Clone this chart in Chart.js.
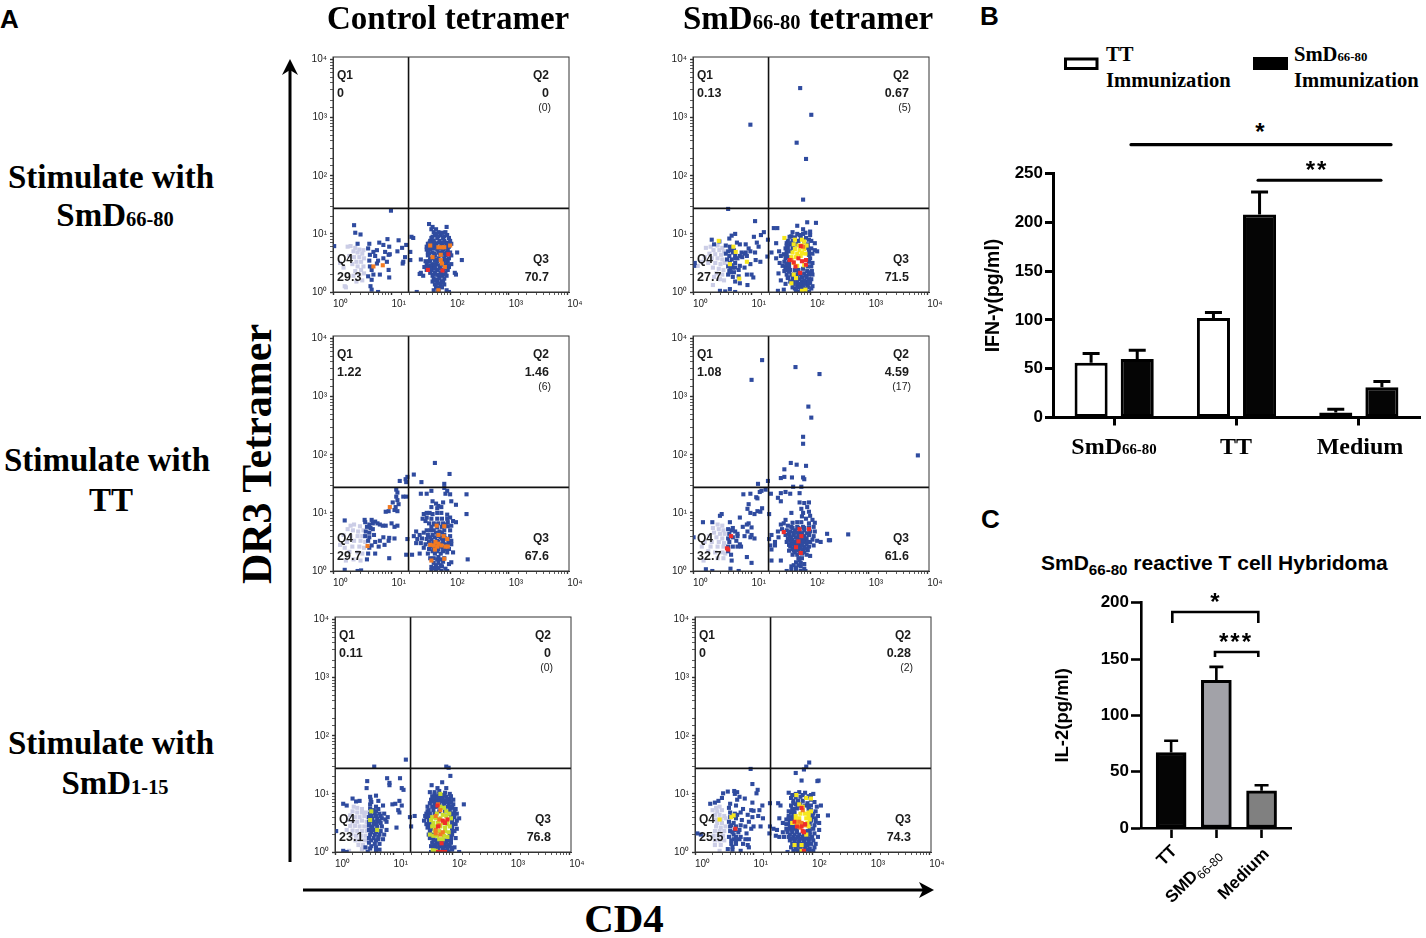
<!DOCTYPE html>
<html>
<head>
<meta charset="utf-8">
<script src="https://cdn.jsdelivr.net/npm/chart.js@4"></script>
<style>
  html, body { margin: 0; padding: 0; background: #fff; }
  #page { position: relative; width: 1426px; height: 938px; overflow: hidden; }
  canvas { position: absolute; }
  svg { position: absolute; left: 0; top: 0; }
  .t { position: absolute; white-space: nowrap; line-height: 1; color: #000; }
  .serif { font-family: "Liberation Serif", serif; font-weight: bold; }
  .sans { font-family: "Liberation Sans", sans-serif; font-weight: bold; }
  .q { font-family: "Liberation Sans", sans-serif; font-weight: bold; color: #1c1c1c; }
  .serif small { font-size: 0.62em; }
</style>
</head>
<body>
<div id="page">
  <svg width="1426" height="938">
    <!-- panel A axis arrows -->
    <line x1="290" y1="862" x2="290" y2="68" stroke="#000" stroke-width="3"/>
    <path d="M282 75 L290 59 L298 75 L290 70 Z" fill="#000"/>
    <line x1="303" y1="890" x2="925" y2="890" stroke="#000" stroke-width="3"/>
    <path d="M919 882 L934 890 L919 898 L923 890 Z" fill="#000"/>
    <!-- panel B significance -->
    <line x1="1131" y1="144.7" x2="1391" y2="144.7" stroke="#000" stroke-width="3.2" stroke-linecap="round"/>
    <line x1="1258" y1="180.3" x2="1381" y2="180.3" stroke="#000" stroke-width="3" stroke-linecap="round"/>
    <!-- panel B legend swatches -->
    <rect x="1065.5" y="59" width="31.5" height="9.5" fill="#fff" stroke="#000" stroke-width="3"/>
    <rect x="1253" y="57" width="35" height="13" fill="#000"/>
    <!-- panel C brackets -->
    <path d="M1172.3 623 V612 H1258.3 V623" fill="none" stroke="#000" stroke-width="2.6"/>
    <path d="M1215 657 V652 H1258.3 V657" fill="none" stroke="#000" stroke-width="2.6"/>
  </svg>
</div>
<script>
// FACS panels, values are log10 decades [CD4, DR3 tetramer]
const p1Grey = [[.3,.79],[.25,.78],[.38,.76],[.45,.73],[.52,.72],[.35,.7],[.42,.68],[.5,.66],[.28,.62],[.36,.6],[.45,.6],[.53,.58],[.4,.52],[.48,.52],[.33,.48],[.42,.44],[.52,.44],[.48,.38],[.38,.36],[.45,.3],[.53,.32],[.35,.28],[.2,.1],[.22,.08],[.4,.18],[.5,.2],[.12,.5],[.18,.42]];
const p1Blue = [[.36,1.15],[.38,1.02],[.47,.99],[.42,.83],[.02,.79],[.62,.83],[.79,.85],[.93,.91],[.86,.81],[.96,.78],[1.12,.89],[1.25,.81],[1.18,.76],[1.1,.7],[.6,.75],[.75,.72],[.69,.69],[.63,.64],[.72,.62],[.89,.69],[.95,.64],[.97,.65],[.62,.54],[.77,.54],[.86,.58],[.92,.52],[.63,.44],[.75,.49],[.66,.38],[.8,.3],[.95,.38],[.96,.25],[.69,.3],[.6,.27],[.66,.21],[.64,.1],[.66,.04],[.77,0],[1.2,.52],[1.19,.49],[1.23,.6],[1.32,.55],[1.32,.69],[1.34,.95],[1.37,.93],[.99,1.4],[1.43,0],[1.48,.31],[1.5,.56],
  [1.64,1.17],[1.7,1.12],[1.94,1.12],[1.76,1.08],[1.68,1.08],[1.72,1.03],[1.8,1.03],[1.92,1.03],[1.74,.98],[1.84,.98],[1.95,.98],[1.68,.93],[1.78,.93],[1.88,.93],[1.98,.93],[1.66,.88],[1.72,.88],[1.82,.88],[1.9,.88],[2,.88],[1.62,.83],[1.7,.83],[1.76,.83],[1.86,.83],[1.94,.83],[2.02,.83],[1.6,.78],[1.68,.78],[1.74,.78],[1.84,.78],[1.92,.78],[1.98,.78],[1.6,.73],[1.66,.73],[1.78,.73],[1.88,.73],[1.96,.73],[1.62,.68],[1.7,.68],[1.8,.68],[1.86,.68],[1.94,.68],[2,.68],[2.12,.68],[1.62,.63],[1.74,.63],[1.84,.63],[1.92,.63],[2.02,.63],[1.66,.58],[1.72,.58],[1.8,.58],[1.9,.58],[1.98,.58],[1.58,.53],[1.64,.53],[1.78,.53],[1.88,.53],[1.96,.53],[2.2,.55],[1.6,.48],[1.7,.48],[1.76,.48],[1.86,.48],[1.94,.48],[2.02,.48],[1.56,.43],[1.62,.43],[1.72,.43],[1.82,.43],[1.92,.43],[1.98,.43],[1.6,.38],[1.68,.38],[1.78,.38],[1.88,.38],[1.96,.38],[1.5,.33],[1.66,.33],[1.74,.33],[1.84,.33],[1.92,.33],[2.08,.33],[1.54,.28],[1.7,.28],[1.8,.28],[1.86,.28],[1.94,.28],[2.1,.3],[1.72,.23],[1.82,.23],[1.9,.23],[1.7,.18],[1.78,.18],[1.86,.18],[1.74,.13],[1.84,.13],[1.9,.13],[1.76,.08],[1.86,.08],[1.72,.03],[1.8,.03],[1.94,.03],[1.8,0],[1.98,0]];
const p1BlueCore = [[1.65,.85],[1.73,.85],[1.8,.85],[1.88,.85],[1.96,.85],[1.64,.76],[1.72,.75],[1.81,.75],[1.9,.75],[1.64,.66],[1.73,.66],[1.82,.66],[1.9,.66],[1.97,.66],[1.66,.55],[1.74,.55],[1.83,.55],[1.92,.55],[1.66,.46],[1.74,.46],[1.82,.46],[1.9,.46],[1.97,.46],[1.66,.4],[1.74,.4],[1.83,.4],[1.91,.4],[1.72,.3],[1.78,.3],[1.84,.3],[1.9,.3],[1.76,.21],[1.8,.15],[1.74,.2],[1.88,.18],[1.8,.08],[1.7,.95],[1.8,.96],[1.9,.96],[1.76,1],[1.86,1.02]];
const p1Yellow = [];
const p1Orange = [[.69,.44],[.85,.46],[1.66,.8],[1.8,.77],[1.86,.77],[1.9,.77],[2,.8],[1.7,.6],[1.84,.64],[1.84,.55],[1.86,.49],[1.91,.43],[1.8,.03]];
const p1Red = [[1.97,.65],[1.62,.38],[1.87,.37]];

const p2Grey = [[.3,.78],[.22,.76],[.42,.8],[.5,.76],[.35,.72],[.45,.72],[.53,.7],[.28,.66],[.38,.65],[.48,.64],[.2,.6],[.32,.58],[.42,.58],[.5,.56],[.15,.52],[.26,.5],[.38,.5],[.47,.48],[.54,.5],[.34,.42],[.44,.4],[.52,.38],[.4,.32],[.5,.3],[.36,.26],[.46,.22],[.53,.2],[.34,.12],[.08,.45]];
const p2Blue = [[1.83,3.51],[2.02,3.05],[.98,2.88],[1.77,2.57],[1.93,2.29],[1.88,1.59],[.6,1.43],[1.06,1.22],[1.44,1.1],[1.21,1.03],[1.16,.98],[1.28,.9],[1.04,.95],[1.09,.85],[1.12,.78],[.32,.9],[.36,.82],[.45,.87],[.66,.97],[.72,1],[.62,.92],[.75,.85],[.8,.82],[.56,.8],[.63,.78],[.7,.72],[.95,.75],[.6,.7],[.68,.68],[.83,.68],[.9,.68],[.98,.7],[1.06,.68],[.62,.62],[.72,.62],[.8,.62],[.88,.66],[.58,.56],[.66,.56],[.76,.58],[.92,.62],[1.07,.55],[1.15,.52],[.63,.5],[.72,.5],[.98,.48],[.6,.44],[.68,.42],[.8,.45],[.88,.42],[.62,.36],[.7,.34],[.78,.38],[.6,.3],[.68,.26],[.78,.27],[.92,.3],[1,.3],[1.03,.25],[.72,.18],[.8,.15],[.93,.12],[.46,.02],[.55,.01],[.63,.05],[.72,0],[.03,.5],[.02,.45],[.9,.82],
  [1.27,.61],[1.34,.68],[1.38,1.1],[1.42,.84],[1.47,.7],[1.5,.62],[1.42,.58],[1.55,.65],[1.58,.75],[1.6,.84],[1.48,.5],[1.53,.45],[1.58,.38],[1.46,.32],[1.5,.2],[1.58,.14],[1.45,.02],[1.55,.04],[1.62,.25],
  [1.78,1.14],[1.95,1.2],[2.1,1.19],[1.88,1.08],[1.92,1.02],[2,1.04],[1.7,1.03],[1.78,1],[1.88,1],[2,.98],[1.65,.95],[1.74,.94],[1.84,.94],[1.93,.93],[1.98,.9],[1.62,.88],[1.7,.88],[1.8,.88],[1.9,.87],[2.02,.88],[1.66,.82],[1.76,.82],[1.96,.82],[2.08,.84],[1.62,.76],[1.7,.76],[1.96,.76],[2.02,.75],[1.66,.7],[1.98,.7],[2.08,.72],[2.12,.7],[1.6,.66],[1.98,.64],[2.04,.66],[1.58,.58],[2,.58],[1.56,.52],[1.63,.5],[1.98,.52],[2.04,.5],[1.58,.44],[1.64,.42],[1.96,.44],[2.02,.44],[1.56,.36],[1.64,.35],[1.8,.38],[1.88,.4],[1.95,.36],[2.03,.36],[1.6,.3],[1.72,.3],[1.8,.32],[1.9,.32],[1.98,.3],[2.04,.3],[1.62,.24],[1.78,.25],[1.86,.25],[1.94,.25],[2.02,.22],[1.66,.18],[1.78,.18],[1.86,.18],[1.94,.18],[2,.16],[1.78,.12],[1.86,.12],[1.96,.12],[2.04,.1],[1.74,.06],[1.84,.06],[1.92,.06],[2.02,.06],[1.8,0],[1.9,.02],[1.98,0]];
const p2BlueCore = [[1.68,.96],[1.82,.98],[1.6,.8],[1.68,.84],[1.6,.72],[1.58,.64],[1.62,.6],[1.64,.52],[1.6,.48],[1.64,.46],[1.6,.4],[1.66,.38],[1.74,.38],[1.68,.3],[1.76,.3],[1.84,.3],[1.92,.28],[1.99,.34],[1.7,.24],[1.72,.2],[1.82,.22],[1.9,.2],[1.98,.22],[1.72,.14],[1.82,.14],[1.9,.14],[1.98,.16],[1.7,.08],[1.8,.08],[1.88,.08],[1.96,.08],[1.76,.02],[1.86,.02],[.64,.72],[.72,.58],[.66,.46],[.64,.4],[.72,.42],[.64,.34],[.56,.66],[.84,.6]];
const p2Yellow = [[.44,.88],[.69,.78],[.73,.69],[.92,.52],[.63,.48],[.79,.23],[1.56,.93],[1.74,.9],[1.86,.9],[1.9,.87],[1.72,.82],[1.8,.8],[1.86,.8],[1.94,.8],[1.74,.74],[1.82,.72],[1.9,.74],[1.7,.68],[1.78,.66],[1.86,.67],[1.92,.66],[1.68,.6],[1.76,.6],[1.84,.62],[1.72,.5],[1.78,.45],[1.9,.46],[1.72,.3],[1.76,.24],[1.68,.15],[1.86,.02],[1.92,.04]];
const p2Orange = [[1.88,.78],[1.68,.55]];
const p2Red = [[1.65,.55],[1.72,.51],[1.8,.58],[1.86,.53],[1.93,.55],[1.75,.44],[1.93,.47],[1.83,.33],[1.84,.79]];

const p3Grey = [[.3,.78],[.36,.8],[.46,.77],[.25,.72],[.34,.7],[.43,.68],[.52,.7],[.18,.62],[.3,.6],[.42,.6],[.5,.6],[.12,.45],[.24,.5],[.36,.52],[.47,.52],[.55,.5],[.2,.4],[.33,.42],[.45,.42],[.53,.4],[.28,.33],[.42,.32],[.5,.3],[.35,.2],[.47,.18],[.22,.18]];
const p3Blue = [[1.74,1.86],[1.99,1.67],[1.38,1.66],[1.27,1.62],[1.14,1.55],[1.25,1.53],[1.51,1.53],[1.9,1.5],[1.24,1.58],[1.08,1.4],[1.1,1.35],[1.08,1.28],[1.1,1.22],[1.02,1.18],[1.12,1.15],[1.07,1.1],[1.05,1.05],[.95,1.03],[.9,1.02],[1.1,1.03],[1.25,1.28],[1.2,1.28],[.2,.87],[.54,.88],[.55,.84],[.66,.88],[.72,.85],[.76,.82],[.8,.8],[.68,.82],[.62,.8],[.85,.78],[.9,.78],[1,.82],[1.05,.76],[1.1,.78],[.58,.76],[.64,.74],[.68,.72],[.56,.68],[.62,.66],[.7,.62],[.55,.6],[.62,.58],[.86,.58],[.96,.57],[1.05,.56],[.6,.52],[.72,.5],[.8,.52],[.66,.44],[.78,.42],[.88,.45],[.95,.52],[.62,.4],[.6,.3],[.72,.3],[.96,.22],[.58,.2],[.2,.02],[.42,0],[.48,.01],[1.25,.28],[1.27,.55],
  [1.5,1.33],[1.6,1.33],[1.68,1.38],[1.9,1.43],[1.95,1.38],[1.92,1.33],[2,1.32],[2.28,1.32],[2.02,1.2],[2.1,1.14],[1.7,1.2],[1.76,1.16],[1.8,1.12],[1.68,1.1],[1.78,1.08],[1.85,1.1],[1.88,1.18],[2.28,.98],[1.55,.98],[1.6,1],[1.65,1],[1.6,.92],[1.7,.98],[1.78,1],[1.85,1],[1.95,.97],[2,.92],[1.53,.9],[1.58,.86],[1.68,.9],[1.78,.9],[1.86,.9],[1.95,.9],[2.05,.86],[1.64,.82],[1.72,.82],[1.8,.82],[1.88,.82],[1.96,.84],[2.1,.84],[1.68,.76],[1.78,.75],[1.86,.76],[1.96,.77],[2.02,.78],[1.6,.7],[1.72,.7],[1.82,.68],[1.9,.7],[2,.7],[1.42,.68],[1.48,.62],[1.55,.66],[1.62,.62],[1.7,.62],[1.8,.6],[1.9,.62],[2,.6],[1.38,.6],[1.44,.55],[1.52,.56],[1.6,.55],[1.68,.54],[1.78,.52],[1.86,.56],[1.96,.54],[2.02,.52],[1.42,.48],[1.5,.48],[1.58,.46],[1.66,.46],[1.74,.46],[1.82,.46],[1.92,.46],[2.02,.46],[1.55,.4],[1.64,.38],[1.72,.38],[1.8,.38],[1.88,.4],[1.98,.38],[1.48,.3],[1.62,.3],[1.74,.3],[1.84,.3],[1.95,.32],[2.05,.32],[1.35,.28],[1.66,.22],[1.72,.22],[1.8,.24],[1.9,.22],[2.02,.15],[2.3,.2],[1.72,.14],[1.8,.14],[1.88,.16],[1.98,.12],[1.68,.07],[1.76,.08],[1.86,.08],[1.92,.04],[1.68,.01],[1.76,.02],[1.85,0],[1.95,0]];
const p3BlueCore = [[1.74,.8],[1.92,.8],[1.66,.7],[1.76,.66],[1.86,.66],[1.66,.58],[1.74,.58],[1.84,.58],[1.92,.56],[1.64,.5],[1.72,.5],[1.8,.5],[1.88,.5],[1.98,.48],[1.68,.42],[1.76,.42],[1.84,.42],[1.92,.38],[1.7,.34],[1.78,.34],[1.88,.34],[1.78,.2],[1.84,.2],[1.76,.1],[1.84,.1],[1.72,.05],[1.8,.05]];
const p3Yellow = [];
const p3Orange = [[.59,.43],[.97,1.1],[1.77,.78],[1.9,.77],[1.8,.62],[1.89,.6],[1.75,.5],[1.8,.47],[1.66,.45],[1.72,.44],[1.78,.42],[1.85,.44],[1.92,.42],[1.96,.42],[1.74,.37],[1.68,.18],[1.9,.21],[1.95,.55]];
const p3Red = [];

const p4Grey = [[.42,.8],[.5,.78],[.34,.74],[.44,.72],[.52,.7],[.36,.66],[.46,.64],[.54,.64],[.28,.6],[.4,.58],[.5,.56],[.2,.5],[.32,.5],[.44,.5],[.53,.48],[.3,.42],[.42,.42],[.52,.42],[.26,.34],[.38,.32],[.5,.32],[.55,.3],[.18,.18],[.42,.22],[.52,.22],[.15,.42]];
const p4Blue = [[1.18,3.63],[1,3.29],[1.75,3.51],[2.16,3.39],[1.97,2.83],[2.02,2.64],[1.88,2.31],[1.88,2.19],[3.84,1.99],[1.67,1.86],[1.77,1.83],[1.93,1.81],[1.56,1.75],[1.5,1.6],[1.56,1.62],[1.69,1.61],[1.88,1.61],[1.9,1.58],[1.28,1.55],[1.11,1.5],[1.71,1.45],[1.85,1.45],[2.65,.63],[2.29,.64],[2.32,.53],[2.34,.53],[.49,.98],[.46,.95],[.17,.84],[.33,.84],[.63,.84],[.8,.92],[.95,.82],[.92,.8],[1,.75],[.68,.74],[.85,.76],[.98,1],[1.05,.98],[1.1,1.03],[1.18,1.08],[1.3,.98],[.93,1.07],[.95,1.15],[.86,1.32],[.98,1.33],[1.08,1.27],[1.1,1.25],[1.14,1.36],[1.17,1.38],[1.24,1.4],[1.33,1.33],[1.45,1.26],[1.15,1.02],[.6,.72],[.66,.7],[.72,.68],[.62,.64],[.76,.64],[.93,.68],[1,.62],[.6,.56],[.68,.58],[.76,.6],[.88,.6],[.98,.58],[1.05,.56],[.62,.5],[.74,.52],[.8,.46],[.6,.42],[.68,.42],[.76,.42],[.82,.42],[.6,.34],[.65,.28],[.92,.24],[1,.14],[.66,.18],[.22,.03],[.33,0],[.64,.04],[.78,0],[.01,.58],[1.3,.55],[1.32,.44],[1.34,.37],[1.4,.44],[1.34,.18],[1.5,.18],
  [1.5,1.34],[1.58,1.36],[1.66,1.33],[1.82,1.34],[1.5,1.2],[1.82,1.18],[1.9,1.17],[1.98,1.18],[1.85,1.07],[1.68,1],[1.95,1.1],[1.98,1.02],[1.88,1],[2,.95],[1.86,.94],[1.93,.9],[2.04,.88],[1.58,.88],[1.7,.83],[1.78,.84],[1.85,.84],[1.98,.82],[2.08,.83],[1.5,.8],[1.55,.82],[1.62,.78],[1.68,.76],[1.78,.76],[1.88,.76],[1.98,.75],[2.06,.76],[1.45,.68],[1.52,.72],[1.6,.7],[1.66,.68],[1.74,.7],[1.82,.68],[1.9,.7],[2,.68],[2.08,.68],[1.58,.62],[1.65,.6],[1.72,.62],[1.8,.62],[1.9,.6],[1.98,.62],[2.06,.6],[1.34,.62],[1.46,.58],[1.62,.56],[1.7,.54],[1.78,.55],[1.86,.54],[1.94,.56],[2.04,.54],[2.12,.52],[2.18,.5],[1.4,.5],[1.6,.5],[1.68,.48],[1.76,.48],[1.84,.48],[1.92,.5],[2,.5],[1.66,.42],[1.74,.42],[1.82,.42],[1.9,.42],[1.98,.42],[2.06,.44],[1.64,.35],[1.72,.35],[1.8,.36],[1.88,.36],[1.96,.36],[1.7,.28],[1.78,.28],[1.86,.3],[1.94,.28],[2,.26],[1.8,.22],[1.86,.22],[1.76,.15],[1.84,.14],[1.9,.12],[1.68,.08],[1.76,.06],[1.84,.08],[1.9,.04],[1.6,0],[1.68,.02],[1.76,0],[1.84,0],[1.92,0]];
const p4BlueCore = [[1.7,.74],[1.8,.74],[1.9,.74],[1.64,.64],[1.72,.66],[1.78,.66],[1.86,.65],[1.94,.65],[1.68,.58],[1.76,.58],[1.84,.58],[1.9,.56],[1.66,.52],[1.74,.5],[1.82,.52],[1.88,.5],[1.96,.5],[1.64,.45],[1.7,.45],[1.78,.45],[1.86,.45],[1.94,.46],[1.7,.38],[1.76,.38],[1.84,.39],[1.92,.39],[1.74,.32],[1.82,.32],[1.9,.32],[1.82,.18],[1.72,.1],[1.8,.1]];
const p4Yellow = [];
const p4Orange = [];
const p4Red = [[.65,.6],[.6,.37],[1.55,.67],[1.82,.72],[1.98,.72],[1.85,.6],[1.8,.51],[1.76,.41],[1.84,.31],[.58,.39]];

const p5Grey = [[.32,.78],[.38,.76],[.46,.74],[.3,.7],[.38,.68],[.46,.68],[.53,.68],[.26,.63],[.34,.6],[.42,.6],[.5,.62],[.56,.6],[.22,.55],[.3,.52],[.38,.52],[.46,.54],[.54,.52],[.26,.45],[.34,.45],[.42,.44],[.5,.44],[.56,.44],[.2,.38],[.3,.37],[.38,.36],[.46,.36],[.54,.36],[.28,.3],[.36,.28],[.44,.28],[.52,.28],[.35,.2],[.42,.2],[.5,.2],[.56,.2],[.4,.12],[.48,.12],[.46,.05],[.54,.06],[.24,.02]];
const p5Blue = [[1.21,1.59],[.67,1.47],[1.9,1.47],[1.94,1.45],[1.97,1.31],[.89,1.27],[.93,1.19],[1.11,1.27],[.55,1.22],[1.14,1.1],[.93,1.15],[1.17,1.07],[.54,1.1],[.6,.95],[.61,.9],[.7,.97],[.62,.86],[.74,.88],[.3,.92],[.36,.87],[.42,.88],[.14,.83],[.2,.8],[.6,.82],[.7,.78],[.82,.8],[1.1,.88],[1.03,.83],[.98,.82],[1.14,.8],[1.08,.72],[1.1,.68],[.6,.75],[.66,.72],[.74,.74],[.6,.66],[.68,.66],[.76,.66],[.84,.66],[.9,.6],[.58,.6],[.64,.58],[.72,.58],[.8,.58],[.86,.56],[.58,.52],[.66,.52],[.72,.52],[.78,.5],[.88,.52],[.58,.46],[.64,.44],[.72,.44],[.8,.44],[1.05,.42],[.58,.38],[.66,.38],[.78,.36],[.88,.38],[.6,.3],[.68,.3],[.76,.3],[.84,.3],[.58,.24],[.66,.24],[.74,.22],[.82,.22],[.58,.16],[.68,.14],[.76,.14],[.52,.08],[.6,.06],[.7,.02],[.76,.04],[.14,.02],[.2,0],[.56,0],[.02,.36],[1.28,.6],[1.36,.62],[1.3,.44],
  [1.65,1.15],[1.75,1.1],[1.83,1.2],[1.9,1.1],[1.62,1.03],[1.7,1.03],[1.78,1.05],[1.88,1.02],[1.96,1],[1.66,.96],[1.74,.96],[1.82,.96],[1.9,.95],[1.98,.96],[1.64,.9],[1.72,.9],[1.8,.9],[1.88,.88],[1.96,.9],[2.02,.9],[1.62,.84],[1.7,.84],[1.78,.84],[1.86,.84],[1.94,.84],[2.02,.82],[2.2,.82],[1.66,.78],[1.74,.78],[1.84,.78],[1.92,.78],[2,.76],[2.06,.74],[1.6,.72],[1.68,.72],[1.78,.7],[1.88,.7],[1.96,.72],[2.04,.7],[1.56,.66],[1.62,.66],[1.7,.66],[1.96,.66],[2.02,.66],[2.08,.66],[1.56,.6],[1.62,.6],[1.98,.6],[2.04,.6],[2.12,.58],[1.52,.54],[1.6,.54],[2,.54],[2.08,.54],[1.56,.48],[1.62,.48],[2,.48],[2.06,.48],[1.58,.42],[2,.42],[2.08,.4],[1.62,.36],[2,.36],[1.66,.3],[2,.3],[1.62,.24],[1.68,.22],[1.98,.24],[2.06,.24],[1.66,.16],[1.74,.16],[1.82,.16],[1.9,.16],[1.98,.16],[1.64,.1],[1.72,.1],[1.8,.1],[1.88,.1],[1.96,.1],[2.04,.08],[1.68,.04],[1.76,.04],[1.84,.04],[1.92,.04],[2,.04],[1.64,0],[1.94,0],[2.12,0]];
const p5BlueCore = [[1.7,.99],[1.78,.99],[1.86,.98],[1.68,.93],[1.76,.93],[1.84,.92],[1.92,.92],[1.66,.87],[1.74,.87],[1.82,.87],[1.9,.86],[1.98,.85],[1.58,.78],[1.7,.78],[1.58,.7],[1.98,.78],[1.54,.62],[1.6,.44],[1.64,.4],[1.6,.3],[1.64,.26],[1.96,.3],[2.04,.36],[1.98,.2],[1.7,.2],[1.76,.2],[1.88,.2],[1.94,.2],[1.7,.13],[1.78,.13],[1.86,.13],[1.94,.13],[1.68,.07],[1.76,.07],[1.84,.07],[1.92,.07],[2,.07],[1.7,0],[1.9,.02],[.62,.7],[.7,.7],[.62,.62],[.7,.62],[.78,.62],[.62,.54],[.7,.48],[.62,.4],[.7,.34],[.62,.34],[.74,.26],[.62,.2],[.7,.2],[.62,.1],[.7,.08],[.66,.48],[.76,.54]];
const p5Yellow = [[.62,.7],[.6,.55],[.72,.38],[1.8,.78],[1.86,.76],[1.9,.7],[1.95,.66],[1.66,.6],[1.74,.66],[1.84,.64],[1.9,.62],[1.98,.58],[1.64,.55],[1.72,.58],[1.8,.58],[1.92,.54],[1.68,.5],[1.76,.5],[1.84,.5],[1.92,.48],[1.66,.44],[1.72,.44],[1.8,.44],[1.88,.42],[1.96,.44],[1.7,.36],[1.78,.36],[1.88,.36],[1.94,.34],[1.68,.28],[1.74,.28],[1.86,.28],[1.92,.26],[1.78,.22],[1.84,.22],[1.62,.3],[1.67,.03],[1.72,.02],[1.8,1]];
const p5Orange = [[1.76,.82],[1.8,.72],[1.72,.62],[1.78,.56],[1.86,.52],[1.78,.46],[1.72,.38],[1.84,.34],[1.72,.32],[1.8,.3]];
const p5Red = [[1.75,.8],[1.84,.54],[1.88,.5],[1.92,.56],[1.76,.44],[1.82,.15],[1.76,0],[1.82,0],[1.88,0]];

const p6Grey = [[.36,.76],[.42,.78],[.3,.72],[.38,.7],[.46,.72],[.34,.64],[.42,.64],[.5,.62],[.36,.56],[.44,.56],[.52,.58],[.38,.5],[.46,.5],[.36,.44],[.44,.42],[.52,.44],[.34,.36],[.42,.36],[.5,.36],[.32,.28],[.4,.28],[.48,.28],[.34,.2],[.42,.2],[.5,.2],[.34,.12],[.44,.12],[.42,.02]];
const p6Blue = [[1.95,1.54],[1.9,1.47],[1.86,1.42],[1.72,1.36],[1.82,1.23],[2.11,1.23],[2.09,1.22],[.95,1.43],[.98,1.17],[1.07,1.07],[1.05,1.01],[.48,1.01],[.56,1.04],[.67,1.05],[.68,1],[.72,1.03],[.76,.95],[.46,.93],[.4,.88],[.34,.85],[.26,.83],[.6,.83],[.72,.9],[.85,.92],[.98,.85],[1.15,.8],[1.1,.72],[.96,.72],[1,.71],[.58,.76],[.7,.8],[.82,.74],[.6,.68],[.68,.66],[.78,.68],[.9,.64],[.98,.6],[1.08,.62],[1.16,.58],[.6,.6],[.7,.58],[.8,.55],[.92,.52],[.58,.52],[.66,.5],[.78,.46],[.86,.44],[1,.44],[1.12,.44],[.6,.44],[.68,.38],[.76,.38],[.96,.4],[.6,.36],[.66,.3],[.74,.34],[.78,.26],[.88,.32],[.58,.26],[.66,.22],[.76,.22],[.86,.22],[.92,.22],[.62,.14],[.7,.14],[.82,.14],[.9,.12],[.92,.08],[.56,.05],[.64,.04],[.78,.02],[.04,.32],[.1,.3],[1.28,.84],[1.42,.84],[1.46,.8],[1.28,.44],[1.34,.4],[1.4,.38],[1.44,.58],[1.27,.32],[1.38,.28],[1.44,.26],
  [1.6,1.02],[1.72,1],[1.78,1.03],[1.88,1.02],[1.98,.98],[2.02,1],[1.64,.93],[1.72,.94],[1.8,.95],[1.9,.93],[1.98,.9],[1.68,.88],[1.76,.88],[1.84,.88],[1.92,.84],[2.04,.86],[2.15,.8],[1.64,.8],[1.72,.82],[1.8,.82],[1.98,.8],[2.08,.78],[1.66,.74],[1.74,.75],[1.82,.76],[1.98,.72],[2.06,.7],[2.27,.63],[1.64,.68],[1.7,.68],[1.96,.66],[2.02,.66],[2.1,.62],[1.6,.62],[1.68,.62],[2,.6],[2.06,.58],[1.56,.56],[1.62,.54],[1.68,.56],[1.98,.54],[2.06,.52],[2.12,.5],[1.5,.5],[1.56,.48],[1.62,.48],[1.96,.48],[2.04,.46],[1.56,.4],[1.62,.4],[1.7,.4],[1.96,.4],[2.02,.4],[2.12,.38],[1.5,.34],[1.58,.34],[1.66,.34],[1.74,.34],[1.88,.34],[1.96,.34],[2.04,.32],[1.52,.26],[1.6,.26],[1.68,.26],[1.76,.26],[1.84,.26],[1.92,.26],[2,.26],[2.1,.26],[1.62,.2],[1.7,.2],[1.78,.2],[1.86,.2],[1.94,.2],[2.02,.2],[1.66,.14],[1.74,.14],[1.82,.14],[1.9,.14],[1.98,.14],[2.06,.14],[1.64,.08],[1.72,.08],[1.8,.08],[1.88,.08],[1.96,.06],[2.04,.08],[1.58,0],[1.68,.02],[1.76,.02],[1.86,0],[1.96,0],[2.02,.02]];
const p6BlueCore = [[1.66,.98],[1.84,.98],[1.94,.96],[1.68,.84],[1.76,.8],[1.88,.8],[1.94,.78],[1.68,.74],[1.6,.7],[1.68,.7],[1.94,.74],[1.6,.58],[1.66,.6],[1.62,.44],[1.68,.44],[1.58,.38],[1.66,.38],[1.74,.38],[1.92,.36],[1.62,.3],[1.7,.3],[1.78,.3],[1.86,.3],[1.96,.3],[1.64,.23],[1.72,.23],[1.8,.23],[1.88,.23],[1.96,.23],[1.7,.17],[1.78,.17],[1.86,.17],[1.94,.17],[1.68,.11],[1.76,.11],[1.84,.11],[1.92,.11],[1.72,.04],[1.8,.04],[1.9,.04],[.64,.62],[.72,.64],[.62,.46],[.7,.44],[.64,.34],[.7,.26],[.62,.2],[.7,.2],[.64,.09]];
const p6Yellow = [[.62,.6],[.66,.63],[.42,.56],[1.73,.98],[1.9,.93],[1.98,.92],[1.78,.82],[1.84,.78],[1.98,.7],[1.94,.68],[1.72,.62],[1.8,.66],[1.88,.66],[1.94,.62],[1.72,.55],[1.78,.58],[1.9,.58],[1.96,.56],[1.74,.5],[1.92,.5],[1.66,.5],[1.78,.44],[1.94,.44],[1.9,.3],[1.82,.12],[1.7,.12],[1.82,.02]];
const p6Orange = [[1.84,.72],[1.78,.52],[1.82,.5],[1.88,.46],[1.8,.42]];
const p6Red = [[1.82,.76],[.69,.4],[1.7,.52],[1.74,.44],[1.82,.44],[1.88,.48],[1.84,.36],[1.86,.34],[1.86,.02]];

const gateX = 1.29;
const gateY = 1.44;
const logTicks = [0, 1, 2, 3, 4];

const panelNames = ["p1", "p2", "p3", "p4", "p5", "p6"];
const q1Values = ["0", "0.13", "1.22", "1.08", "0.11", "0"];
const q2Values = ["0", "0.67", "1.46", "4.59", "0", "0.28"];
const q2Counts = ["(0)", "(5)", "(6)", "(17)", "(0)", "(2)"];
const q3Values = ["70.7", "71.5", "67.6", "61.6", "76.8", "74.3"];
const q4Values = ["29.3", "27.7", "29.7", "32.7", "23.1", "25.5"];
const panelLeft = [333, 693, 333, 693, 335, 695];
const panelTop = [57, 57, 336, 336, 617, 617];

// Panel B
const bGroups = ["SmD66-80", "TT", "Medium"];
const bTT = [56, 102, 5];
const bTTTop = [65.5, 107.5, 8.5];
const bSmD = [60, 208, 31];
const bSmDTop = [69, 231, 37];

// Panel C
const cStim = ["TT", "SMD66-80", "Medium"];
const cValues = [67, 131, 33];
const cTops = [77.5, 143, 38];
const cFills = ["#050505", "#a2a2a8", "#808080"];

const YELLOWS = { p5: "#c8dc2c" };
const page = document.getElementById("page");

function addText(html, x, y, cls, size, anchor, extra) {
  const el = document.createElement("div");
  el.className = "t " + cls;
  el.innerHTML = html;
  el.style.left = x + "px";
  el.style.top = y + "px";
  el.style.fontSize = size + "px";
  const tx = anchor === "r" ? "-100%" : anchor === "c" ? "-50%" : "0";
  el.style.transform = `translate(${tx},-50%)` + (extra || "");
  page.appendChild(el);
  return el;
}

function toPoints(list) {
  return list.map(([a, b]) => ({ x: 10 ** a, y: 10 ** b }));
}

function pointSet(label, list, color) {
  return {
    label,
    data: toPoints(list),
    pointStyle: "rect",
    pointRadius: 2.9,
    pointHoverRadius: 2.9,
    pointBorderWidth: 0,
    backgroundColor: color,
    borderColor: color,
    showLine: false,
  };
}

function gateLine(data) {
  return {
    data,
    showLine: true,
    pointRadius: 0,
    borderColor: "#111",
    borderWidth: 1.6,
    clip: true,
  };
}

const panelBorder = {
  id: "panelBorder",
  afterDatasetsDraw(chart) {
    const { ctx, chartArea: a } = chart;
    ctx.save();
    ctx.strokeStyle = "#333";
    ctx.lineWidth = 1;
    ctx.strokeRect(a.left, a.top, a.right - a.left, a.bottom - a.top);
    ctx.restore();
  },
};

function isPower(v) {
  return logTicks.some((p) => Math.abs(Math.log10(v) - p) < 1e-6);
}

function logAxis(max, size, isX) {
  return {
    type: "logarithmic",
    min: 1,
    max,
    afterFit(s) {
      if (isX) s.height = size;
      else s.width = size;
      s.paddingLeft = s.paddingRight = s.paddingTop = s.paddingBottom = 0;
    },
    afterBuildTicks(s) {
      s.ticks = s.ticks.filter((t) => t.value <= 10000);
    },
    border: { color: "#333", width: 1 },
    grid: {
      drawOnChartArea: false,
      tickLength: 3,
      color: "#333",
      tickWidth: (c) => (c.tick && isPower(c.tick.value) ? 1.4 : 0.8),
    },
    ticks: {
      autoSkip: false,
      maxRotation: 0,
      minRotation: 0,
      padding: 3,
      align: isX ? "start" : "center",
      color: "#222",
      font: { family: "Liberation Sans", size: 10 },
      callback(v) {
        if (!isPower(v)) return "";
        const sup = "⁰¹²³⁴"[Math.round(Math.log10(v))];
        return "10" + sup;
      },
    },
  };
}

function drawPanel(i) {
  const name = panelNames[i];
  const sets = {
    p1: [p1Red, p1Orange, p1Yellow, p1Blue.concat(p1BlueCore), p1Grey],
    p2: [p2Red, p2Orange, p2Yellow, p2Blue.concat(p2BlueCore), p2Grey],
    p3: [p3Red, p3Orange, p3Yellow, p3Blue.concat(p3BlueCore), p3Grey],
    p4: [p4Red, p4Orange, p4Yellow, p4Blue.concat(p4BlueCore), p4Grey],
    p5: [p5Red, p5Orange, p5Yellow, p5Blue.concat(p5BlueCore), p5Grey],
    p6: [p6Red, p6Orange, p6Yellow, p6Blue.concat(p6BlueCore), p6Grey],
  }[name];
  const L = panelLeft[i];
  const T = panelTop[i];
  const canvas = document.createElement("canvas");
  canvas.width = 285;
  canvas.height = 260;
  canvas.style.left = L - 30 + "px";
  canvas.style.top = T - 7 + "px";
  page.appendChild(canvas);

  const xMax = 10 ** 4.03;
  const yMax = 10 ** 4.045;
  new Chart(canvas, {
    type: "scatter",
    data: {
      datasets: [
        gateLine([{ x: 10 ** gateX, y: 1 }, { x: 10 ** gateX, y: yMax }]),
        gateLine([{ x: 1, y: 10 ** gateY }, { x: xMax, y: 10 ** gateY }]),
        pointSet("red", sets[0], "#ee2d2b"),
        pointSet("orange", sets[1], "#f27a22"),
        pointSet("yellow", sets[2], YELLOWS[name] || "#f6e71e"),
        pointSet("blue", sets[3], "#2f4b9f"),
        pointSet("grey", sets[4], "#cbcde6"),
      ],
    },
    options: {
      responsive: false,
      animation: false,
      layout: { padding: { top: 7, right: 19 } },
      plugins: { legend: { display: false }, tooltip: { enabled: false } },
      scales: { x: logAxis(xMax, 18, true), y: logAxis(yMax, 30, false) },
    },
    plugins: [panelBorder],
  });

  const B = T + 235;
  addText("Q1", L + 4, T + 18, "q", 12);
  addText(q1Values[i], L + 4, T + 36, "q", 12.5);
  addText("Q2", L + 216, T + 18, "q", 12, "r");
  addText(q2Values[i], L + 216, T + 36, "q", 12.5, "r");
  addText(`<span style="font-weight:normal">${q2Counts[i]}</span>`, L + 218, T + 49.5, "q", 10.5, "r");
  addText("Q4", L + 4, B - 33, "q", 12);
  addText(q4Values[i], L + 4, B - 15, "q", 12.5);
  addText("Q3", L + 216, B - 33, "q", 12, "r");
  addText(q3Values[i], L + 216, B - 15, "q", 12.5, "r");
}

const errorBars = {
  id: "errorBars",
  afterDatasetsDraw(chart, args, opts) {
    const { ctx } = chart;
    const yScale = chart.scales.y;
    ctx.save();
    ctx.strokeStyle = "#000";
    ctx.lineWidth = opts.width;
    chart.data.datasets.forEach((ds, d) => {
      const meta = chart.getDatasetMeta(d);
      ds.tops.forEach((top, i) => {
        const bar = meta.data[i];
        const y = yScale.getPixelForValue(top);
        ctx.beginPath();
        ctx.moveTo(bar.x, bar.y);
        ctx.lineTo(bar.x, y);
        ctx.moveTo(bar.x - opts.cap, y);
        ctx.lineTo(bar.x + opts.cap, y);
        ctx.stroke();
      });
    });
    ctx.restore();
  },
};

function drawB() {
  const canvas = document.createElement("canvas");
  canvas.width = 444;
  canvas.height = 280;
  canvas.style.left = "982px";
  canvas.style.top = "160px";
  page.appendChild(canvas);
  new Chart(canvas, {
    type: "bar",
    data: {
      labels: bGroups,
      datasets: [
        { label: "TT Immunization", data: bTT, tops: bTTTop, backgroundColor: "#fff", borderColor: "#000", borderWidth: 3, borderSkipped: false },
        { label: "SmD66-80 Immunization", data: bSmD, tops: bSmDTop, backgroundColor: "#050505", borderColor: "#000", borderWidth: 3, borderSkipped: false },
      ],
    },
    options: {
      responsive: false,
      animation: false,
      categoryPercentage: 0.754,
      barPercentage: 0.717,
      layout: { padding: { top: 13.5, right: 6 } },
      plugins: {
        legend: { display: false },
        tooltip: { enabled: false },
        errorBars: { width: 3, cap: 8.5 },
      },
      scales: {
        x: {
          afterFit(s) { s.height = 22.5; },
          border: { color: "#000", width: 3 },
          grid: { offset: false, drawOnChartArea: false, tickLength: 8, tickWidth: 3, color: "#000" },
          ticks: { display: false },
        },
        y: {
          min: 0,
          max: 250,
          afterFit(s) { s.width = 71; },
          border: { color: "#000", width: 3 },
          grid: { drawOnChartArea: false, tickLength: 8, tickWidth: 3, color: "#000" },
          ticks: { stepSize: 50, padding: 2, color: "#000", font: { family: "Liberation Sans", weight: "bold", size: 17 } },
          title: { display: true, text: "IFN-γ(pg/ml)", color: "#000", padding: 0, font: { family: "Liberation Sans", weight: "bold", size: 19.5 } },
        },
      },
    },
    plugins: [errorBars],
  });
}

function drawC() {
  const canvas = document.createElement("canvas");
  canvas.width = 248;
  canvas.height = 255;
  canvas.style.left = "1052px";
  canvas.style.top = "590px";
  page.appendChild(canvas);
  new Chart(canvas, {
    type: "bar",
    data: {
      datasets: [
        {
          label: "IL-2",
          data: cValues.map((v, i) => ({ x: i + 1, y: v })),
          tops: cTops,
          backgroundColor: cFills,
          borderColor: "#000",
          borderWidth: 3,
          borderSkipped: false,
          barThickness: 30,
        },
      ],
    },
    options: {
      responsive: false,
      animation: false,
      layout: { padding: { top: 12.7, right: 8.3 } },
      plugins: {
        legend: { display: false },
        tooltip: { enabled: false },
        errorBars: { width: 2.6, cap: 7 },
      },
      scales: {
        x: {
          type: "linear",
          offset: false,
          min: 1 / 3,
          max: 11 / 3,
          afterFit(s) { s.height = 17; },
          border: { color: "#000", width: 2.6 },
          grid: { offset: false, drawOnChartArea: false, tickLength: 10, tickWidth: 2.6, color: "#000" },
          ticks: { display: false, stepSize: 1, includeBounds: false },
          afterBuildTicks(s) { s.ticks = cStim.map((c, i) => ({ value: i + 1 })); },
        },
        y: {
          min: 0,
          max: 200,
          afterFit(s) { s.width = 89; },
          border: { color: "#000", width: 2.6 },
          grid: { drawOnChartArea: false, tickLength: 10, tickWidth: 2.6, color: "#000" },
          ticks: { stepSize: 50, padding: 2, color: "#000", font: { family: "Liberation Sans", weight: "bold", size: 17 } },
          title: { display: true, text: "IL-2(pg/ml)", color: "#000", padding: 0, font: { family: "Liberation Sans", weight: "bold", size: 18.5 } },
        },
      },
    },
    plugins: [errorBars],
  });
}

panelNames.forEach((n, i) => drawPanel(i));
drawB();
drawC();

// Panel letters and column / row titles
addText("A", 0, 19, "sans", 26);
addText("B", 980, 16, "sans", 26);
addText("C", 981, 519, "sans", 26);
addText("Control tetramer", 327, 18, "serif", 33);
addText("SmD<small>66-80</small> tetramer", 683, 18, "serif", 33);

addText("Stimulate with", 111, 177, "serif", 33, "c");
addText("SmD<small>66-80</small>", 115, 215, "serif", 33, "c");
addText("Stimulate with", 107, 460, "serif", 33, "c");
addText("TT", 111, 500, "serif", 33, "c");
addText("Stimulate with", 111, 743, "serif", 33, "c");
addText("SmD<small>1-15</small>", 115, 783, "serif", 33, "c");

addText("DR3 Tetramer", 257, 454, "serif", 42, "c", " rotate(-90deg)");
addText("CD4", 624, 918, "serif", 41, "c");

// Panel B text
addText("TT", 1106, 54, "serif", 20.6);
addText("Immunization", 1106, 80, "serif", 20.6);
addText("SmD<small>66-80</small>", 1294, 54, "serif", 20.6);
addText("Immunization", 1294, 80, "serif", 20.6);
addText("*", 1260, 132, "sans", 24, "c");
addText('<span style="letter-spacing:2px">**</span>', 1317, 170, "sans", 24, "c");
addText("SmD<small>66-80</small>", 1114, 446, "serif", 24, "c");
addText("TT", 1236, 446, "serif", 24, "c");
addText("Medium", 1360, 446, "serif", 24, "c");

// Panel C text
addText('SmD<sub style="font-size:.72em;line-height:0">66-80</sub> reactive T cell Hybridoma', 1041, 562, "sans", 21);
addText("*", 1215, 602, "sans", 24, "c");
addText('<span style="letter-spacing:2px">***</span>', 1236, 642, "sans", 24, "c");
[["TT", 1174, 848], ['SMD<sub style="font-size:.72em;line-height:0;font-weight:normal">66-80</sub>', 1217, 851], ["Medium", 1266, 851]].forEach(([txt, x, y]) => {
  const el = addText(txt, x, y, "sans", 17, "r");
  el.style.transformOrigin = "right center";
  el.style.transform = "translate(-100%,-50%) rotate(-45deg)";
});
</script>
</body>
</html>
